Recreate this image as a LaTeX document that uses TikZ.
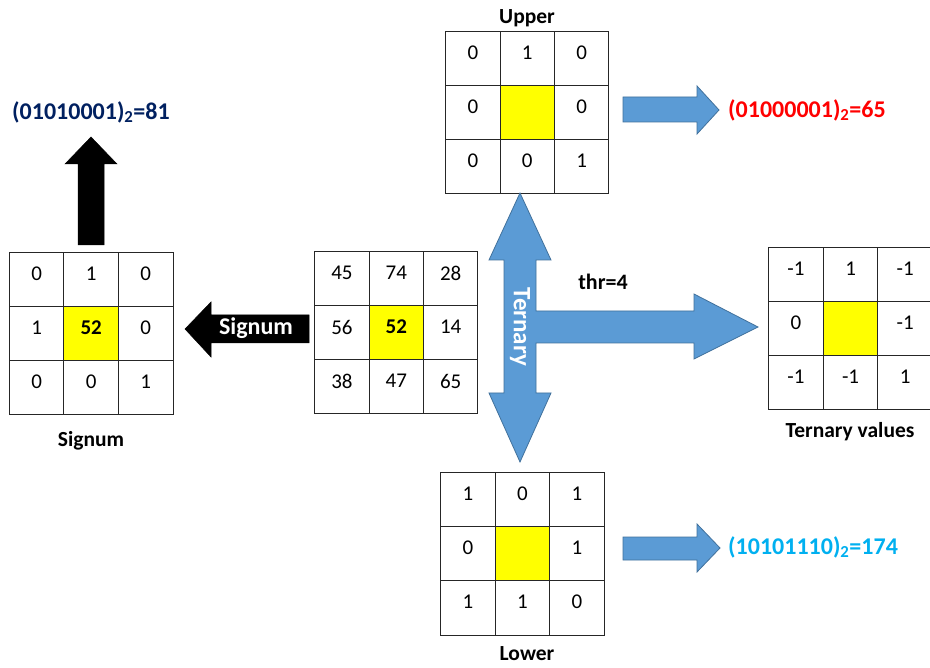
\documentclass[tikz,border=0pt]{standalone}
\usepackage{fontspec}
\setmainfont{Carlito}
\definecolor{navy}{RGB}{0,32,96}
\definecolor{cyantxt}{RGB}{0,176,240}
\definecolor{bluefill}{RGB}{91,155,213}
\definecolor{blueline}{RGB}{65,113,156}
\definecolor{yel}{RGB}{255,255,0}
\tikzset{
  cell/.style={draw=black!85, line width=1pt, inner sep=0pt, outer sep=0pt},
  num/.style={font=\fontsize{21}{25}\selectfont, inner sep=0pt},
  lbl/.style={font=\fontsize{21.5}{25}\selectfont\bfseries, inner sep=0pt},
  big/.style={font=\fontsize{24}{28}\selectfont\bfseries, inner sep=0pt},
  bluearrow/.style={fill=bluefill, draw=blueline, line width=0.8pt, line join=miter},
  blackarrow/.style={fill=black, draw=black, line width=0.5pt}
}
\newcommand\mkgrid[7]{%
  \foreach \r/\c/\t in {#6} {
    \node[cell, minimum width=#4pt, minimum height=#5pt] (#1-\r-\c) at ({#2+(\c-0.5)*#4},{#3+(\r-0.5)*#5}) {};
    \node[num, yshift=6pt] (#1-\r-\c-t) at (#1-\r-\c.center) {\t};
  }
  \node[cell, fill=yel, minimum width=#4pt, minimum height=#5pt] (#1-2-2) at ({#2+1.5*#4},{#3+1.5*#5}) {};
  \node[num, yshift=6pt] (#1-2-2-t) at (#1-2-2.center) {#7};
}
\begin{document}
\begin{tikzpicture}[x=1pt, y=-1pt]
\useasboundingbox (0,0) rectangle (930,668);
\clip (0,0) rectangle (930,668);
\fill[white] (0,0) rectangle (930,668);

% grids
\mkgrid{L}{9.3}{252.3}{54.6}{54}{1/1/0,1/2/1,1/3/0,2/1/1,2/3/0,3/1/0,3/2/0,3/3/1}{\textbf{52}}
\mkgrid{M}{314.7}{252}{54.4}{54}{1/1/45,1/2/74,1/3/28,2/1/56,2/3/14,3/1/38,3/2/47,3/3/65}{\textbf{52}}
\mkgrid{U}{445.7}{31.7}{54.4}{53.9}{1/1/0,1/2/1,1/3/0,2/1/0,2/3/0,3/1/0,3/2/0,3/3/1}{}
\mkgrid{D}{440.7}{472.7}{54.5}{54.1}{1/1/1,1/2/0,1/3/1,2/1/0,2/3/1,3/1/1,3/2/1,3/3/0}{}
\mkgrid{T}{768.7}{247.7}{54.6}{54.1}{1/1/-1,1/2/1,1/3/-1,2/1/0,2/3/-1,3/1/-1,3/2/-1,3/3/1}{}

% labels
\node[lbl] (upper) at (527,18) {Upper};
\node[lbl] (lower) at (527,654) {Lower};
\node[lbl] (signumlbl) at (91,441) {Signum};
\node[lbl] (ternlbl) at (850,432) {Ternary values};
\node[lbl, font=\fontsize{22}{26}\selectfont\bfseries] (thr) at (603,282) {thr=4};

% result codes
\node[big, text=navy] (code81) at (91,112) {(01010001)\textsubscript{2}=81};
\node[big, text=red, anchor=west] (code65) at (728,110) {(01000001)\textsubscript{2}=65};
\node[big, text=cyantxt, anchor=west] (code174) at (728,547) {(10101110)\textsubscript{2}=174};

% blue arrows
\draw[bluearrow] (623,97) -- (697,97) -- (697,86) -- (719,110) -- (697,134) -- (697,122) -- (623,122) -- cycle;
\draw[bluearrow] (623,537) -- (697,537) -- (697,524) -- (720,548) -- (697,572) -- (697,560) -- (623,560) -- cycle;
\draw[bluearrow] (520,193) -- (551,260) -- (536,260) -- (536,311) -- (694,311) -- (694,294) -- (758,327)
  -- (694,359) -- (694,343) -- (536,343) -- (536,393) -- (551,393) -- (520,462) -- (489,393)
  -- (504,393) -- (504,260) -- (489,260) -- cycle;
\node[big, font=\fontsize{25}{29}\selectfont\bfseries, text=white, rotate=-90] (ternary) at (520,327) {Ternary};

% black arrows
\draw[blackarrow] (185,329) -- (211,302) -- (211,315) -- (309,315) -- (309,343) -- (211,343) -- (211,357) -- cycle;
\node[big, text=white] (signumarr) at (256,328) {Signum};
\draw[blackarrow] (91,137) -- (117,164) -- (104,164) -- (104,245) -- (78,245) -- (78,164) -- (65,164) -- cycle;
\end{tikzpicture}
\end{document}
